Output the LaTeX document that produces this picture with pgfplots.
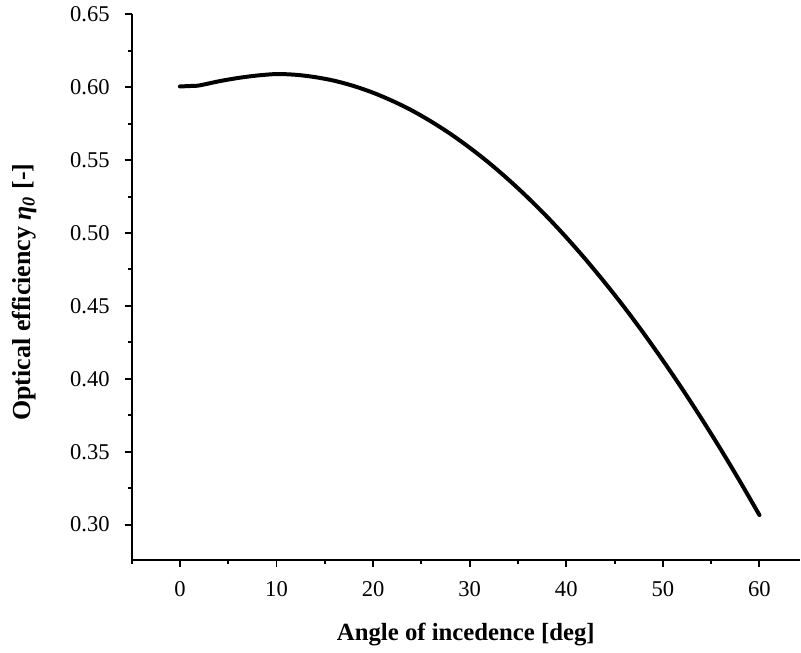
\documentclass[border=0pt]{standalone}
\usepackage{fontspec}
\setmainfont{Liberation Serif}
\usepackage{pgfplots}
\pgfplotsset{compat=1.18}
\begin{document}
\begin{tikzpicture}
\begin{axis}[
  scale only axis,
  width=335pt, height=273.5pt,
  xmin=-5, xmax=64.2,
  ymin=0.2757, ymax=0.65,
  axis x line=bottom, axis y line=left,
  axis line style={line width=1pt,-},
  xtick={0,10,...,60},
  minor xtick={-5,5,15,25,35,45,55},
  ytick={0.30,0.35,...,0.651},
  minor ytick={0.275,0.325,...,0.626},
  tick align=outside,
  major tick length=3.5pt, minor tick length=2pt,
  every tick/.style={line width=1pt,black},
  tick label style={font=\fontsize{11.3}{13}\selectfont},
  /pgf/number format/assume math mode=true,
  yticklabel style={/pgf/number format/fixed,/pgf/number format/fixed zerofill,/pgf/number format/precision=2,xshift=-4pt},
  xticklabel style={yshift=-4pt},
  xlabel={\bfseries Angle of incedence [deg]},
  ylabel={\bfseries Optical efficiency \textit{η}\textsubscript{\textit{0}} [-]},
  xlabel style={font=\fontsize{12.4}{14}\selectfont, yshift=-6pt},
  ylabel style={font=\fontsize{13}{15}\selectfont, yshift=10pt, xshift=-2.5pt},
  clip=false,
]
\addplot[black, line width=2pt, line join=round, line cap=round, smooth] coordinates {
(0,0.6005) (1,0.6008) (2,0.6012) (4,0.6040) (6,0.6063) (8,0.6080) (10,0.6090)
(12,0.6085) (14,0.6069) (16,0.6044) (18,0.6008) (20,0.5962) (22,0.5906)
(24,0.5841) (26,0.5765) (28,0.5680) (30,0.5585) (32,0.5481) (34,0.5367)
(36,0.5244) (38,0.5112) (40,0.4970) (42,0.4819) (44,0.4659) (46,0.4491)
(48,0.4313) (50,0.4126) (52,0.3931) (54,0.3727) (56,0.3515) (58,0.3294)
(60,0.3065)
};
\end{axis}
% blank margin at the left, as in the reference
\path (current axis.outer south west) ++(-3pt,0) (current axis.outer north west);
\end{tikzpicture}
\end{document}
